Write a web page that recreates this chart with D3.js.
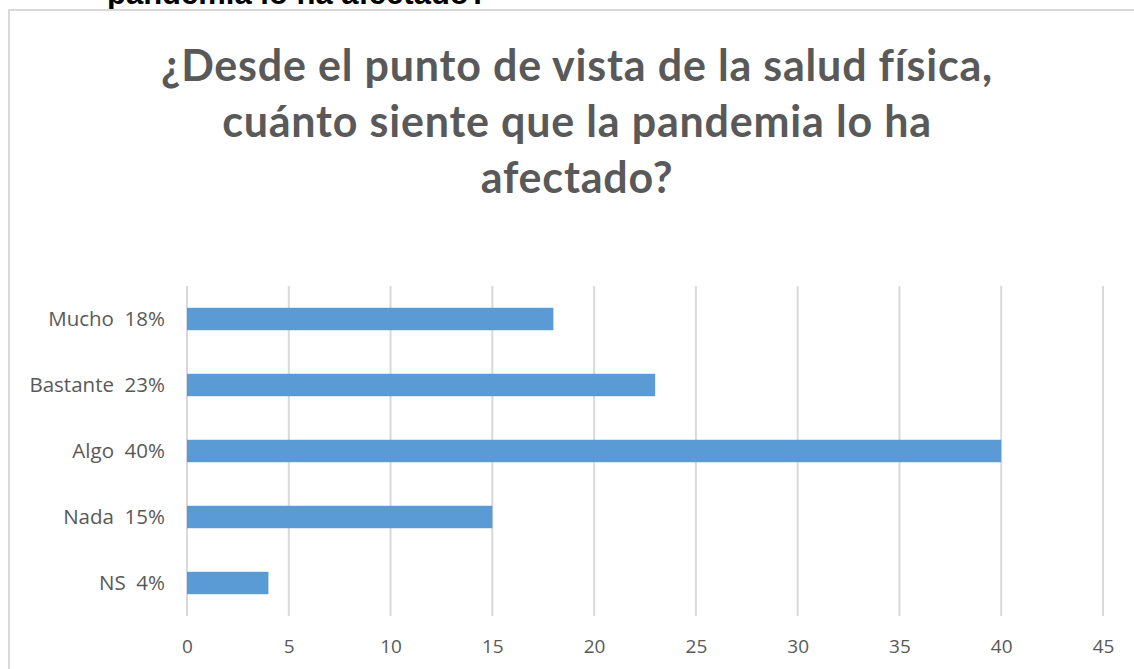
<!DOCTYPE html>
<html><head><meta charset="utf-8">
<script src="https://cdn.jsdelivr.net/npm/d3@7"></script>
<style>
html,body{margin:0;padding:0;background:#fff;overflow:hidden;}
</style></head>
<body>
<svg id="chart" width="1134" height="669"></svg>
<script>
const categories = ["Mucho", "Bastante", "Algo", "Nada", "NS"];
const percentLabels = ["18%", "23%", "40%", "15%", "4%"];
const values = [18, 23, 40, 15, 4];
const xTicks = [0, 5, 10, 15, 20, 25, 30, 35, 40, 45];
const titleLines = ["¿Desde el punto de vista de la salud física,", "cuánto siente que la pandemia lo ha", "afectado?"];
const cutText = "pandemia lo ha afectado?";

const svg = d3.select("#chart");
const labelOf = (c, i) => c + "\u00a0\u00a0" + percentLabels[i];

// cut-off text from the document above
svg.append("text").attr("x", 107).attr("y", 4)
  .attr("font-family", "Liberation Sans, Arial, sans-serif").attr("font-weight", "bold")
  .attr("font-size", 31).attr("fill", "#000").text(cutText);

// chart frame
svg.append("rect").attr("x", 9).attr("y", 10).attr("width", 1140).attr("height", 680)
  .attr("fill", "#fff").attr("stroke", "#d9d9d9").attr("stroke-width", 2);

// title
const title = svg.append("text").attr("text-anchor", "middle")
  .attr("font-family", "Lato, 'Open Sans', sans-serif").attr("font-weight", "bold")
  .attr("font-size", 43).attr("letter-spacing", 0.8).attr("fill", "#595959");
titleLines.forEach((t, i) => {
  title.append("tspan").attr("x", 577).attr("y", 81 + i * 56).text(t);
});

const margin = {left: 187, right: 1103, top: 286, bottom: 616};
const x = d3.scaleLinear().domain([0, 45]).range([margin.left, margin.right]);
const y = d3.scaleBand().domain(categories).range([margin.top, margin.bottom]).paddingInner(0.66).paddingOuter(0.33);

// gridlines
svg.append("g").selectAll("line").data(xTicks).join("line")
  .attr("x1", d => x(d)).attr("x2", d => x(d))
  .attr("y1", margin.top).attr("y2", margin.bottom)
  .attr("stroke", "#d9d9d9").attr("stroke-width", 2);

// bars
svg.append("g").selectAll("rect").data(values).join("rect")
  .attr("x", x(0)).attr("y", (d, i) => y(categories[i]))
  .attr("width", d => x(d) - x(0)).attr("height", y.bandwidth())
  .attr("fill", "#5b9bd5");

// x axis labels
const xAxis = d3.axisBottom(x).tickValues(xTicks).tickSize(0).tickPadding(0);
const gx = svg.append("g").attr("transform", `translate(0,${margin.bottom + 37})`).call(xAxis);
gx.select(".domain").remove();
gx.selectAll("text").attr("font-family", "'Open Sans', sans-serif").attr("font-size", 19)
  .attr("fill", "#595959").attr("dy", 0);

// y axis labels
const yAxis = d3.axisLeft(y).tickSize(0).tickPadding(22).tickFormat((c, i) => labelOf(c, i));
const gy = svg.append("g").attr("transform", `translate(${margin.left},0)`).call(yAxis);
gy.select(".domain").remove();
gy.selectAll("text").attr("font-family", "'Open Sans', sans-serif").attr("font-size", 20.5)
  .attr("fill", "#595959");
</script>
</body></html>
